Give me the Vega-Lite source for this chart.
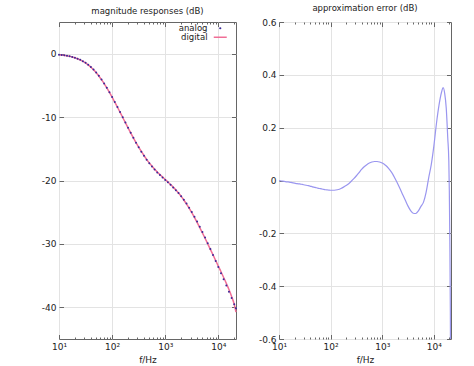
{
  "$schema": "https://vega.github.io/schema/vega-lite/v6.json",
  "background": "white",
  "padding": {"left": 40, "top": 3, "right": 5, "bottom": 2},
  "bounds": "flush",
  "spacing": 43,
  "config": {
    "font": "DejaVu Sans",
    "view": {"stroke": "#666", "strokeWidth": 1},
    "axis": {
      "labelFont": "DejaVu Sans", "labelFontSize": 9, "labelColor": "#222",
      "titleFont": "DejaVu Sans", "titleFontSize": 9, "titleFontWeight": "normal", "titleColor": "#222",
      "tickColor": "#666", "tickWidth": 1, "gridColor": "#e3e3e3", "gridWidth": 1,
      "domain": false, "minExtent": 0, "labelFlush": false, "labelOverlap": false
    },
    "title": {"font": "DejaVu Sans", "fontSize": 8.5, "fontWeight": "normal", "color": "#222", "offset": 6}
  },
  "datasets": {
    "mag": [
      {"f": 10, "analog": -0.17, "digital": -0.17},
      {"f": 11.22, "analog": -0.21, "digital": -0.21},
      {"f": 12.59, "analog": -0.26, "digital": -0.27},
      {"f": 14.13, "analog": -0.33, "digital": -0.33},
      {"f": 15.85, "analog": -0.41, "digital": -0.42},
      {"f": 17.78, "analog": -0.51, "digital": -0.52},
      {"f": 19.95, "analog": -0.63, "digital": -0.64},
      {"f": 22.39, "analog": -0.78, "digital": -0.80},
      {"f": 25.12, "analog": -0.97, "digital": -0.98},
      {"f": 28.18, "analog": -1.18, "digital": -1.20},
      {"f": 31.62, "analog": -1.44, "digital": -1.46},
      {"f": 35.48, "analog": -1.75, "digital": -1.77},
      {"f": 39.81, "analog": -2.10, "digital": -2.12},
      {"f": 44.67, "analog": -2.51, "digital": -2.54},
      {"f": 50.12, "analog": -2.98, "digital": -3.00},
      {"f": 56.23, "analog": -3.49, "digital": -3.52},
      {"f": 63.10, "analog": -4.07, "digital": -4.10},
      {"f": 70.79, "analog": -4.69, "digital": -4.72},
      {"f": 79.43, "analog": -5.36, "digital": -5.40},
      {"f": 89.13, "analog": -6.07, "digital": -6.11},
      {"f": 100, "analog": -6.82, "digital": -6.86},
      {"f": 112.2, "analog": -7.60, "digital": -7.64},
      {"f": 125.9, "analog": -8.40, "digital": -8.43},
      {"f": 141.3, "analog": -9.21, "digital": -9.25},
      {"f": 158.5, "analog": -10.03, "digital": -10.06},
      {"f": 177.8, "analog": -10.86, "digital": -10.88},
      {"f": 199.5, "analog": -11.68, "digital": -11.69},
      {"f": 223.9, "analog": -12.48, "digital": -12.49},
      {"f": 251.2, "analog": -13.27, "digital": -13.27},
      {"f": 281.8, "analog": -14.03, "digital": -14.02},
      {"f": 316.2, "analog": -14.76, "digital": -14.74},
      {"f": 354.8, "analog": -15.45, "digital": -15.42},
      {"f": 398.1, "analog": -16.10, "digital": -16.06},
      {"f": 446.7, "analog": -16.71, "digital": -16.66},
      {"f": 501.2, "analog": -17.28, "digital": -17.22},
      {"f": 562.3, "analog": -17.80, "digital": -17.73},
      {"f": 631.0, "analog": -18.28, "digital": -18.21},
      {"f": 707.9, "analog": -18.72, "digital": -18.65},
      {"f": 794.3, "analog": -19.14, "digital": -19.06},
      {"f": 891.3, "analog": -19.53, "digital": -19.46},
      {"f": 1000, "analog": -19.91, "digital": -19.85},
      {"f": 1122, "analog": -20.29, "digital": -20.23},
      {"f": 1259, "analog": -20.68, "digital": -20.63},
      {"f": 1413, "analog": -21.09, "digital": -21.05},
      {"f": 1585, "analog": -21.52, "digital": -21.49},
      {"f": 1778, "analog": -21.98, "digital": -21.98},
      {"f": 1995, "analog": -22.49, "digital": -22.50},
      {"f": 2239, "analog": -23.04, "digital": -23.07},
      {"f": 2512, "analog": -23.64, "digital": -23.69},
      {"f": 2818, "analog": -24.28, "digital": -24.36},
      {"f": 3162, "analog": -24.97, "digital": -25.07},
      {"f": 3548, "analog": -25.71, "digital": -25.82},
      {"f": 3981, "analog": -26.48, "digital": -26.61},
      {"f": 4467, "analog": -27.30, "digital": -27.42},
      {"f": 5012, "analog": -28.14, "digital": -28.25},
      {"f": 5623, "analog": -29.01, "digital": -29.11},
      {"f": 6310, "analog": -29.90, "digital": -29.99},
      {"f": 7079, "analog": -30.82, "digital": -30.86},
      {"f": 7943, "analog": -31.75, "digital": -31.74},
      {"f": 8913, "analog": -32.69, "digital": -32.63},
      {"f": 10000, "analog": -33.65, "digital": -33.52},
      {"f": 11220, "analog": -34.61, "digital": -34.39},
      {"f": 12589, "analog": -35.58, "digital": -35.30},
      {"f": 14125, "analog": -36.56, "digital": -36.22},
      {"f": 15849, "analog": -37.54, "digital": -37.20},
      {"f": 17783, "analog": -38.52, "digital": -38.29},
      {"f": 19953, "analog": -39.51, "digital": -39.55},
      {"f": 21500, "analog": -40.15, "digital": -40.75}
    ],
    "err": [
      {"f": 10, "err": 0.000}, {"f": 11.22, "err": -0.002}, {"f": 12.59, "err": -0.003},
      {"f": 14.13, "err": -0.005}, {"f": 15.85, "err": -0.006}, {"f": 17.78, "err": -0.008},
      {"f": 19.95, "err": -0.010}, {"f": 22.39, "err": -0.012}, {"f": 25.12, "err": -0.013},
      {"f": 28.18, "err": -0.015}, {"f": 31.62, "err": -0.017}, {"f": 35.48, "err": -0.019},
      {"f": 39.81, "err": -0.021}, {"f": 44.67, "err": -0.024}, {"f": 50.12, "err": -0.026},
      {"f": 56.23, "err": -0.029}, {"f": 63.10, "err": -0.031}, {"f": 70.79, "err": -0.033},
      {"f": 79.43, "err": -0.035}, {"f": 89.13, "err": -0.036}, {"f": 100, "err": -0.037},
      {"f": 112.2, "err": -0.037}, {"f": 125.9, "err": -0.036}, {"f": 141.3, "err": -0.034},
      {"f": 158.5, "err": -0.030}, {"f": 177.8, "err": -0.025}, {"f": 199.5, "err": -0.019},
      {"f": 223.9, "err": -0.012}, {"f": 251.2, "err": -0.003}, {"f": 281.8, "err": 0.007},
      {"f": 316.2, "err": 0.018}, {"f": 354.8, "err": 0.030}, {"f": 398.1, "err": 0.042},
      {"f": 446.7, "err": 0.052}, {"f": 501.2, "err": 0.060}, {"f": 562.3, "err": 0.066},
      {"f": 631.0, "err": 0.070}, {"f": 707.9, "err": 0.072}, {"f": 794.3, "err": 0.072},
      {"f": 891.3, "err": 0.070}, {"f": 1000, "err": 0.066}, {"f": 1122, "err": 0.060},
      {"f": 1259, "err": 0.051}, {"f": 1413, "err": 0.039}, {"f": 1585, "err": 0.025},
      {"f": 1778, "err": 0.007}, {"f": 1995, "err": -0.012}, {"f": 2239, "err": -0.033},
      {"f": 2512, "err": -0.055}, {"f": 2818, "err": -0.076}, {"f": 3162, "err": -0.097},
      {"f": 3548, "err": -0.114}, {"f": 3981, "err": -0.124}, {"f": 4467, "err": -0.125},
      {"f": 5012, "err": -0.115}, {"f": 5623, "err": -0.098}, {"f": 6310, "err": -0.082},
      {"f": 7079, "err": -0.045}, {"f": 7943, "err": 0.010}, {"f": 8913, "err": 0.060},
      {"f": 10000, "err": 0.130}, {"f": 11220, "err": 0.215}, {"f": 12589, "err": 0.285},
      {"f": 14125, "err": 0.335}, {"f": 15136, "err": 0.352}, {"f": 16218, "err": 0.330},
      {"f": 17378, "err": 0.275}, {"f": 18621, "err": 0.160}, {"f": 19498, "err": 0.075},
      {"f": 19953, "err": -0.040}, {"f": 20417, "err": -0.230}, {"f": 20893, "err": -0.500},
      {"f": 21500, "err": -1.200}
    ]
  },
  "hconcat": [
    {
      "width": 177,
      "height": 317,
      "title": "magnitude responses (dB)",
      "data": {"name": "mag"},
      "layer": [
        {
          "mark": {"type": "line", "strokeWidth": 1.5, "interpolate": "monotone"},
          "encoding": {
            "x": {
              "field": "f", "type": "quantitative",
              "scale": {"type": "log", "domain": [10, 21500], "nice": false},
              "axis": {
                "orient": "top", "title": null, "labels": false, "grid": false,
                "values": [10,20,30,40,50,60,70,80,90,100,200,300,400,500,600,700,800,900,1000,2000,3000,4000,5000,6000,7000,8000,9000,10000,20000],
                "tickSize": {"condition": {"test": "datum.value == 10 || datum.value == 100 || datum.value == 1000 || datum.value == 10000", "value": -4.5}, "value": -2}
              }
            },
            "y": {
              "field": "digital", "type": "quantitative",
              "scale": {"domain": [-45, 5], "nice": false, "zero": false},
              "axis": {"orient": "right", "title": null, "labels": false, "grid": false, "values": [-40, -30, -20, -10, 0], "tickSize": -4.5}
            },
            "color": {
              "datum": "digital",
              "scale": {"domain": ["analog", "digital"], "range": ["#3c2a98", "#f06e96"]},
              "legend": {
                "orient": "none", "legendX": 157, "legendY": 2, "title": null,
                "labelAlign": "right", "labelOffset": -17, "rowPadding": -4, "padding": 0,
                "labelFont": "DejaVu Sans", "labelFontSize": 8.5, "labelColor": "#222", "labelLimit": 0,
                "symbolSize": 169,
                "encode": {
                  "symbols": {
                    "update": {
                      "shape": {"signal": "datum.value === 'digital' ? 'stroke' : 'circle'"},
                      "size": {"signal": "datum.value === 'digital' ? 169 : 5"},
                      "stroke": {"signal": "datum.value === 'digital' ? '#f06e96' : '#3c2a98'"},
                      "fill": {"signal": "datum.value === 'digital' ? 'transparent' : '#3c2a98'"},
                      "strokeWidth": {"signal": "datum.value === 'digital' ? 1.5 : 0"}
                    }
                  }
                }
              }
            }
          }
        },
        {
          "mark": {"type": "point", "filled": true, "size": 4, "opacity": 1},
          "encoding": {
            "x": {
              "field": "f", "type": "quantitative",
              "axis": {
                "orient": "bottom", "title": "f/Hz", "titlePadding": 1,
                "values": [10,20,30,40,50,60,70,80,90,100,200,300,400,500,600,700,800,900,1000,2000,3000,4000,5000,6000,7000,8000,9000,10000,20000],
                "tickSize": {"condition": {"test": "datum.value == 10 || datum.value == 100 || datum.value == 1000 || datum.value == 10000", "value": -4.5}, "value": -2},
                "grid": true,
                "gridOpacity": {"condition": {"test": "datum.value == 10 || datum.value == 100 || datum.value == 1000 || datum.value == 10000", "value": 1}, "value": 0},
                "labelPadding": 8,
                "labelExpr": "datum.value == 10 ? '10¹' : datum.value == 100 ? '10²' : datum.value == 1000 ? '10³' : datum.value == 10000 ? '10⁴' : ''"
              }
            },
            "y": {
              "field": "analog", "type": "quantitative",
              "axis": {
                "orient": "left", "title": null, "grid": true, "values": [-40, -30, -20, -10, 0],
                "tickSize": -4.5, "labelPadding": 7.5,
                "labelExpr": "datum.value < 0 ? '-' + (-datum.value) : '' + datum.value"
              }
            },
            "color": {"datum": "analog"}
          }
        }
      ],
      "resolve": {"axis": {"x": "independent", "y": "independent"}}
    },
    {
      "width": 172,
      "height": 317,
      "title": "approximation error (dB)",
      "data": {"name": "err"},
      "layer": [
        {
          "mark": {"type": "line", "strokeWidth": 1.2, "color": "#9a96ef", "interpolate": "monotone", "clip": true},
          "encoding": {
            "x": {
              "field": "f", "type": "quantitative",
              "scale": {"type": "log", "domain": [10, 21500], "nice": false},
              "axis": {
                "orient": "bottom", "title": "f/Hz", "titlePadding": 1,
                "values": [10,20,30,40,50,60,70,80,90,100,200,300,400,500,600,700,800,900,1000,2000,3000,4000,5000,6000,7000,8000,9000,10000,20000],
                "tickSize": {"condition": {"test": "datum.value == 10 || datum.value == 100 || datum.value == 1000 || datum.value == 10000", "value": -4.5}, "value": -2},
                "grid": true,
                "gridOpacity": {"condition": {"test": "datum.value == 10 || datum.value == 100 || datum.value == 1000 || datum.value == 10000", "value": 1}, "value": 0},
                "labelPadding": 8,
                "labelExpr": "datum.value == 10 ? '10¹' : datum.value == 100 ? '10²' : datum.value == 1000 ? '10³' : datum.value == 10000 ? '10⁴' : ''"
              }
            },
            "y": {
              "field": "err", "type": "quantitative",
              "scale": {"domain": [-0.6, 0.6], "nice": false, "zero": false},
              "axis": {
                "orient": "left", "title": null, "grid": true, "values": [-0.6, -0.4, -0.2, 0, 0.2, 0.4, 0.6],
                "tickSize": -4.5, "labelPadding": 7.5,
                "labelExpr": "datum.value == 0 ? '0' : (datum.value < 0 ? '-' : '') + format(abs(datum.value), '.1f')"
              }
            }
          }
        },
        {
          "mark": {"type": "line", "opacity": 0, "clip": true},
          "encoding": {
            "x": {
              "field": "f", "type": "quantitative",
              "axis": {
                "orient": "top", "title": null, "labels": false, "grid": false,
                "values": [10,20,30,40,50,60,70,80,90,100,200,300,400,500,600,700,800,900,1000,2000,3000,4000,5000,6000,7000,8000,9000,10000,20000],
                "tickSize": {"condition": {"test": "datum.value == 10 || datum.value == 100 || datum.value == 1000 || datum.value == 10000", "value": -4.5}, "value": -2}
              }
            },
            "y": {
              "field": "err", "type": "quantitative",
              "axis": {"orient": "right", "title": null, "labels": false, "grid": false, "values": [-0.6, -0.4, -0.2, 0, 0.2, 0.4, 0.6], "tickSize": -4.5}
            }
          }
        }
      ],
      "resolve": {"axis": {"x": "independent", "y": "independent"}}
    }
  ]
}
